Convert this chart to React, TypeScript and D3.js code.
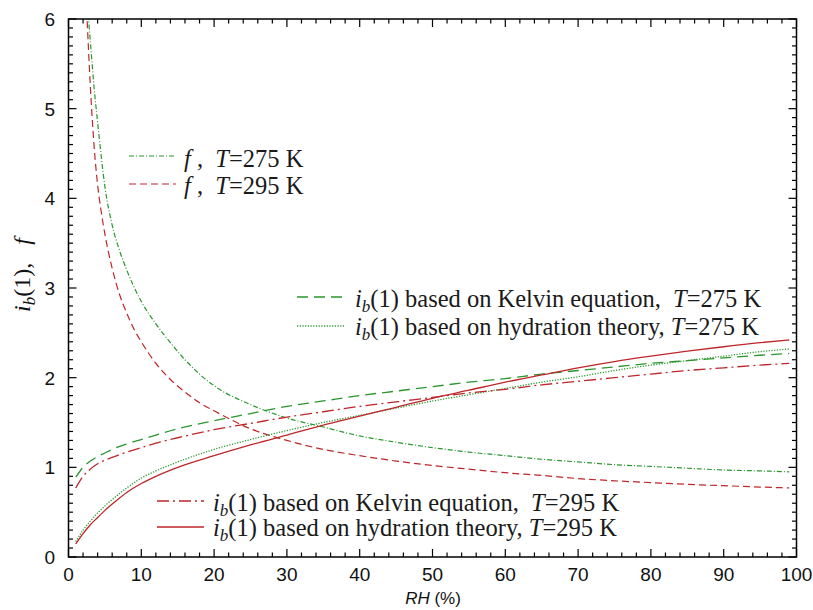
import React from "react";
import * as d3 from "d3";

const rhF275 = [2.7, 3, 3.5, 4, 5, 6, 7, 8, 9, 10, 12, 14, 16, 18, 20, 25, 30, 35, 40, 45, 50, 55, 60, 65, 70, 75, 80, 85, 90, 95, 99];
const valF275 = [6.05, 5.75, 5.25, 4.85, 4.13, 3.7, 3.42, 3.2, 3.01, 2.85, 2.6, 2.39, 2.2, 2.04, 1.91, 1.7, 1.55, 1.45, 1.35, 1.28, 1.22, 1.17, 1.13, 1.09, 1.06, 1.03, 1.01, 0.99, 0.97, 0.96, 0.95];

const rhF295 = [2.5, 3, 3.5, 4, 4.5, 5, 6, 7, 8, 9, 10, 12, 14, 16, 18, 20, 25, 30, 35, 40, 45, 50, 55, 60, 65, 70, 75, 80, 85, 90, 95, 99];
const valF295 = [6.1, 5.25, 4.6, 4.15, 3.85, 3.6, 3.22, 2.93, 2.72, 2.54, 2.4, 2.16, 1.98, 1.84, 1.72, 1.63, 1.43, 1.3, 1.2, 1.13, 1.07, 1.02, 0.98, 0.94, 0.91, 0.875, 0.85, 0.83, 0.81, 0.795, 0.78, 0.77];

const rhIb = [1, 2, 3, 4, 5, 6, 8, 10, 12, 15, 20, 25, 30, 35, 40, 45, 50, 55, 60, 65, 70, 75, 80, 85, 90, 95, 99];
const kelvin275 = [0.89, 1.0, 1.07, 1.12, 1.16, 1.2, 1.26, 1.31, 1.36, 1.43, 1.52, 1.6, 1.68, 1.74, 1.8, 1.85, 1.9, 1.95, 1.99, 2.04, 2.08, 2.12, 2.16, 2.19, 2.22, 2.25, 2.27];
const hydration275 = [0.17, 0.3, 0.4, 0.49, 0.57, 0.64, 0.77, 0.88, 0.96, 1.06, 1.2, 1.31, 1.41, 1.5, 1.58, 1.66, 1.74, 1.81, 1.88, 1.95, 2.01, 2.08, 2.14, 2.19, 2.24, 2.29, 2.32];
const kelvin295 = [0.77, 0.9, 0.98, 1.04, 1.08, 1.11, 1.17, 1.22, 1.27, 1.33, 1.42, 1.49, 1.56, 1.62, 1.68, 1.73, 1.78, 1.83, 1.87, 1.92, 1.96, 2.0, 2.04, 2.08, 2.11, 2.14, 2.16];
const hydration295 = [0.145, 0.26, 0.36, 0.44, 0.52, 0.59, 0.72, 0.82, 0.9, 1.0, 1.13, 1.25, 1.36, 1.47, 1.57, 1.67, 1.77, 1.86, 1.95, 2.03, 2.11, 2.18, 2.24, 2.295, 2.345, 2.39, 2.42];

const xTicks = [0, 10, 20, 30, 40, 50, 60, 70, 80, 90, 100];
const yTicks = [0, 1, 2, 3, 4, 5, 6];

const GREEN = "#2a962e";
const RED = "#be2629";

const series = [
  { key: "f275", xs: rhF275, ys: valF275, color: GREEN, dash: "5,2,1,2", w: 1.2 },
  { key: "f295", xs: rhF295, ys: valF295, color: RED, dash: "7,4", w: 1.2 },
  { key: "k275", xs: rhIb, ys: kelvin275, color: GREEN, dash: "11,6", w: 1.3 },
  { key: "h275", xs: rhIb, ys: hydration275, color: GREEN, dash: "1.2,1.5", w: 1.3 },
  { key: "k295", xs: rhIb, ys: kelvin295, color: RED, dash: "12,4,2,4", w: 1.3 },
  { key: "h295", xs: rhIb, ys: hydration295, color: RED, dash: "none", w: 1.3 },
];

export default function App() {
  const W = 813, H = 610;
  const L = 68.5, R = 796.5, T = 19, B = 557;
  const x = d3.scaleLinear().domain([0, 100]).range([L, R]);
  const y = d3.scaleLinear().domain([0, 6]).range([B, T]);
  const line = d3.line<[number, number]>().x(d => x(d[0])).y(d => y(d[1])).curve(d3.curveMonotoneX);

  const xMinor = d3.range(0, 101, 2);
  const yMinor = d3.range(0, 61, 1).map(v => v / 10);

  const serif = "'Liberation Serif', 'Times New Roman', serif";
  const sans = "'Liberation Sans', Arial, Helvetica, sans-serif";
  const legFs = 24.5;

  const ib = (rest: React.ReactNode) => (
    <>
      <tspan fontStyle="italic">i</tspan>
      <tspan fontStyle="italic" fontSize={17} dy={5}>b</tspan>
      <tspan dy={-5}>{rest}</tspan>
    </>
  );

  const legendItem = (sx: number, sy: number, ty: number, s: typeof series[0], content: React.ReactNode, tx: number, len = 47) => (
    <g key={s.key + "leg"}>
      <line x1={sx} x2={sx + len} y1={sy} y2={sy} stroke={s.color} strokeWidth={s.w} strokeDasharray={s.dash === "none" ? undefined : s.dash} />
      <text x={tx} y={ty} fontFamily={serif} fontSize={legFs} fill="#1a1a1a" style={{ whiteSpace: "pre" }}>{content}</text>
    </g>
  );

  return (
    <svg width={W} height={H} style={{ position: "absolute", left: 0, top: 0, background: "#fff" }}>
      <defs>
        <clipPath id="plot">
          <rect x={L} y={T} width={R - L} height={B - T} />
        </clipPath>
      </defs>
      <g clipPath="url(#plot)">
        {series.map(s => (
          <path key={s.key} d={line(s.xs.map((v, i) => [v, s.ys[i]] as [number, number])) || ""} fill="none" stroke={s.color} strokeWidth={s.w} strokeDasharray={s.dash === "none" ? undefined : s.dash} />
        ))}
      </g>
      <rect x={L} y={T} width={R - L} height={B - T} fill="none" stroke="#000" strokeWidth={1.5} />
      {xMinor.map(v => {
        const major = v % 10 === 0;
        const len = major ? 8 : 4.5;
        return (
          <g key={"xt" + v}>
            <line x1={x(v)} x2={x(v)} y1={B} y2={B - len} stroke="#000" strokeWidth={1.2} />
            <line x1={x(v)} x2={x(v)} y1={T} y2={T + len} stroke="#000" strokeWidth={1.2} />
          </g>
        );
      })}
      {yMinor.map(v => {
        const major = Math.abs(v - Math.round(v)) < 1e-6;
        const len = major ? 8 : 4.5;
        return (
          <g key={"yt" + v}>
            <line x1={L} x2={L + len} y1={y(v)} y2={y(v)} stroke="#000" strokeWidth={1.2} />
            <line x1={R} x2={R - len} y1={y(v)} y2={y(v)} stroke="#000" strokeWidth={1.2} />
          </g>
        );
      })}
      {xTicks.map(v => (
        <text key={"xl" + v} x={x(v)} y={581} textAnchor="middle" fontFamily={sans} fontSize={19} fill="#111">{v}</text>
      ))}
      {yTicks.map(v => (
        <text key={"yl" + v} x={55} y={y(v) + 7} textAnchor="end" fontFamily={sans} fontSize={19} fill="#111">{v}</text>
      ))}
      <text x={433} y={604} textAnchor="middle" fontFamily={sans} fontSize={17} fill="#111">
        <tspan fontStyle="italic">RH</tspan> (%)
      </text>
      <text transform="translate(30,275) rotate(-90)" textAnchor="middle" fontFamily={serif} fontSize={24} fill="#111" style={{ whiteSpace: "pre" }}>
        <tspan fontStyle="italic">i</tspan>
        <tspan fontStyle="italic" fontSize={17} dy={5}>b</tspan>
        <tspan dy={-5}>(1),   </tspan>
        <tspan fontStyle="italic">f</tspan>
      </text>
      {legendItem(129, 156, 167, series[0], <><tspan fontStyle="italic">f</tspan><tspan> ,  </tspan><tspan fontStyle="italic">T</tspan><tspan>=275 K</tspan></>, 184)}
      {legendItem(129, 184, 194, series[1], <><tspan fontStyle="italic">f</tspan><tspan> ,  </tspan><tspan fontStyle="italic">T</tspan><tspan>=295 K</tspan></>, 184)}
      {legendItem(297, 297, 307, series[2], <>{ib("(1) based on Kelvin equation,  ")}<tspan fontStyle="italic">T</tspan><tspan>=275 K</tspan></>, 355)}
      {legendItem(297, 326, 335, series[3], <>{ib("(1) based on hydration theory, ")}<tspan fontStyle="italic">T</tspan><tspan>=275 K</tspan></>, 355)}
      {legendItem(157, 501, 511, series[4], <>{ib("(1) based on Kelvin equation,  ")}<tspan fontStyle="italic">T</tspan><tspan>=295 K</tspan></>, 213)}
      {legendItem(157, 527, 536, series[5], <>{ib("(1) based on hydration theory, ")}<tspan fontStyle="italic">T</tspan><tspan>=295 K</tspan></>, 213)}
    </svg>
  );
}
